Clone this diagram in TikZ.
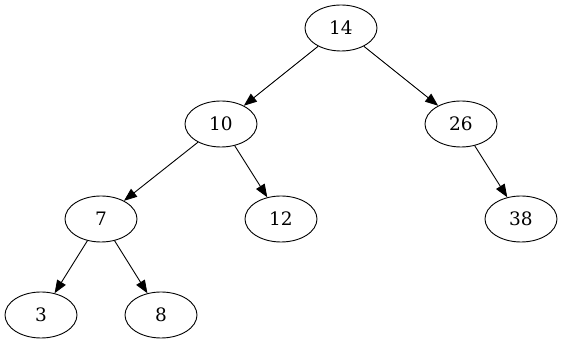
\documentclass[tikz,border=0pt]{standalone}
\usepackage{fontspec}
\setmainfont{DejaVu Serif}
\usetikzlibrary{shapes.geometric,arrows.meta}
\begin{document}
\begin{tikzpicture}[x=1pt,y=-1pt,
		nodo/.style={ellipse, draw=black, line width=0.9pt, minimum width=72pt, minimum height=46pt, inner sep=0pt, font=\fontsize{18.5}{20}\selectfont},
		ramo/.style={black, line width=0.9pt, -{Triangle[length=13pt, width=10pt]}},
		]
		% ── Riquadro (dimensioni dell'immagine) ──
		\useasboundingbox (0,0) rectangle (563,347);
		% ── Nodi dell'albero ──
		\node[nodo] (n14) at (341,28)  {14};
		\node[nodo] (n10) at (221,124) {10};
		\node[nodo] (n26) at (461,124) {26};
		\node[nodo] (n7)  at (101,219) {7};
		\node[nodo] (n12) at (281,219) {12};
		\node[nodo] (n38) at (521,219) {38};
		\node[nodo] (n3)  at (41,315)  {3};
		\node[nodo] (n8)  at (161,315) {8};
		% ── Rami ──
		\foreach \a/\b in {n14/n10,n14/n26,n10/n7,n10/n12,n26/n38,n7/n3,n7/n8}
		\draw[ramo] (\a) -- (\b);
	\end{tikzpicture}
\end{document}
